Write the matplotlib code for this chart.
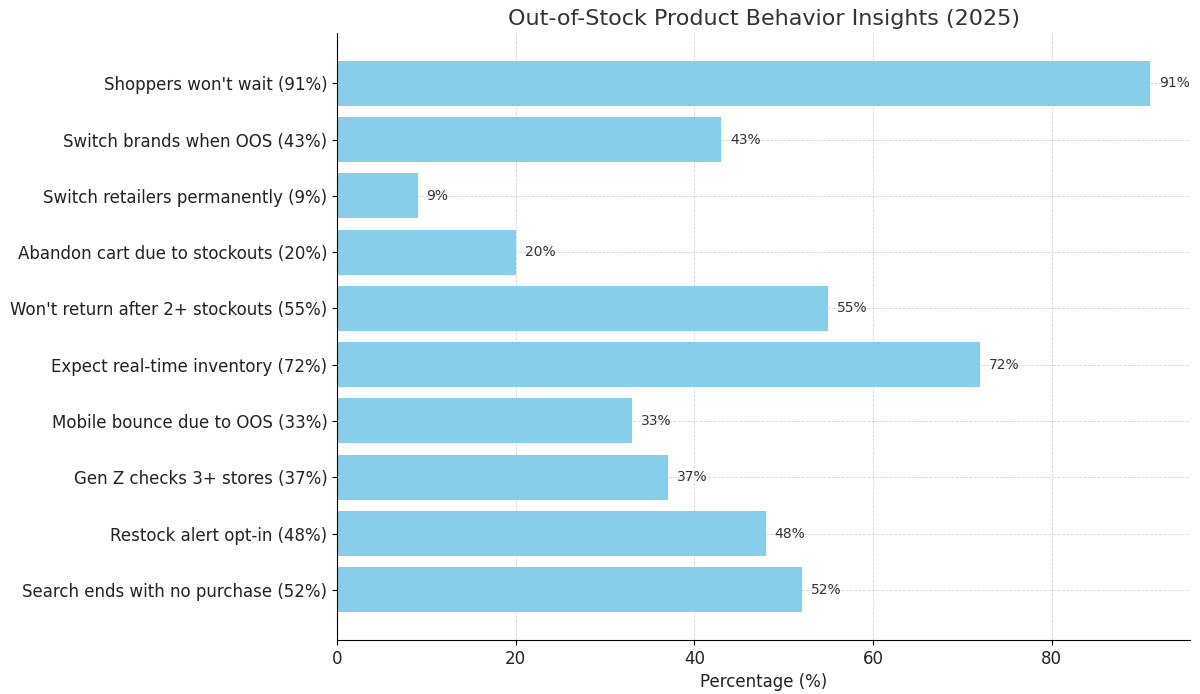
import matplotlib.pyplot as plt

labels = [
    "Shoppers won't wait (91%)",
    "Switch brands when OOS (43%)",
    "Switch retailers permanently (9%)",
    "Abandon cart due to stockouts (20%)",
    "Won't return after 2+ stockouts (55%)",
    "Expect real-time inventory (72%)",
    "Mobile bounce due to OOS (33%)",
    "Gen Z checks 3+ stores (37%)",
    "Restock alert opt-in (48%)",
    "Search ends with no purchase (52%)",
]
values = [91, 43, 9, 20, 55, 72, 33, 37, 48, 52]

fig, ax = plt.subplots(figsize=(12, 6.94), dpi=100)
bars = ax.barh(labels, values, color='skyblue', zorder=2)
ax.invert_yaxis()

# value labels next to the bars
for b, v in zip(bars, values):
    ax.text(b.get_width() + 1, b.get_y() + b.get_height() / 2, f"{v}%",
            va='center', ha='left', fontsize=10, color='#333333')

ax.set_xlim(0, max(values) * 1.05)
ax.set_title("Out-of-Stock Product Behavior Insights (2025)", fontsize=16, color='#333333')
ax.set_xlabel("Percentage (%)", fontsize=12, color='#222222')
ax.tick_params(axis='both', labelsize=12, labelcolor='#222222')
ax.grid(True, linestyle='--', linewidth=0.6, color='#cccccc', alpha=0.8, zorder=0)
ax.spines['top'].set_visible(False)
ax.spines['right'].set_visible(False)

plt.subplots_adjust(left=0.281, right=0.992, top=0.952, bottom=0.078)
plt.savefig("out.png")
